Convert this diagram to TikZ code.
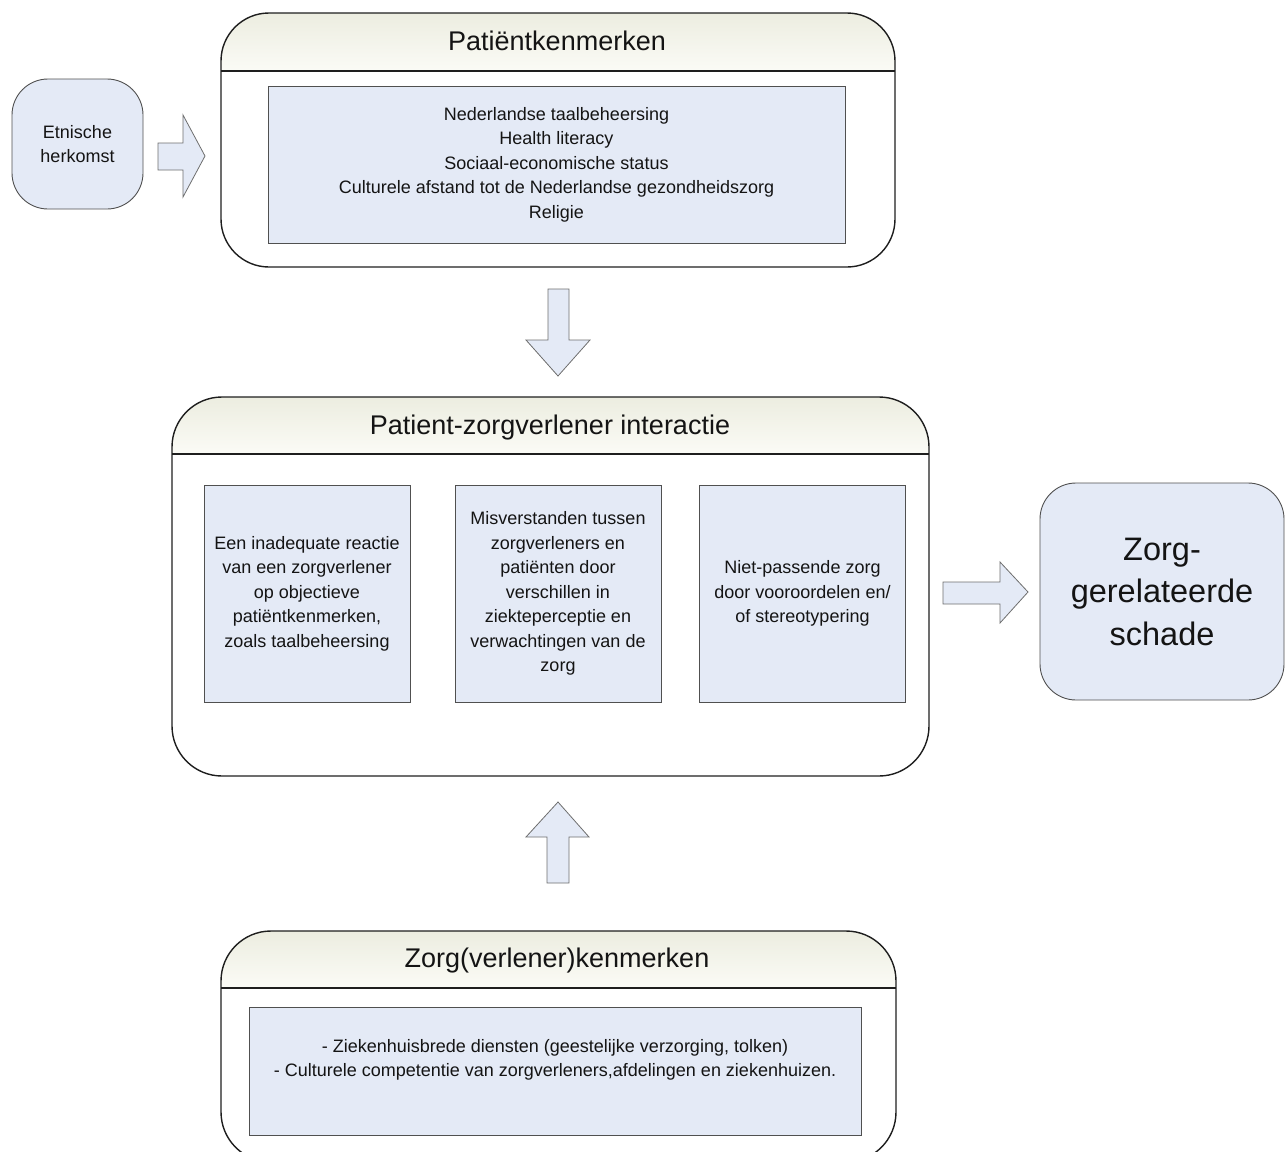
\documentclass[tikz,border=0pt]{standalone}
\usepackage{fontspec}
\setmainfont{Liberation Sans}
\definecolor{boxblue}{RGB}{228,234,246}
\definecolor{hdtop}{RGB}{236,237,224}
\definecolor{hdbot}{RGB}{251,251,246}
\definecolor{contline}{RGB}{30,30,30}
\definecolor{boxline}{RGB}{80,80,80}
\definecolor{arrline}{RGB}{110,110,110}
\definecolor{txtcol}{RGB}{20,20,20}
\newcommand\mycontainer[6]{%
  \begin{scope}
    \clip[rounded corners=#6] (#1,#2) rectangle (#3,#4);
    \shade[top color=hdtop,bottom color=hdbot] (#1,#2) rectangle (#3,#5);
  \end{scope}
  \draw[cont,rounded corners=#6] (#1,#2) rectangle (#3,#4);
  \draw[cont] (#1,#5) -- (#3,#5);}
\begin{document}
\begin{tikzpicture}[x=1pt,y=-1pt,
  cont/.style={draw=contline,line width=1.4pt},
  inbox/.style={draw=boxline,line width=0.9pt,fill=boxblue,inner sep=0pt,text=txtcol,align=center,
    font=\fontsize{18}{24.5}\selectfont},
  roundbox/.style={draw=boxline,line width=0.9pt,fill=boxblue,rounded corners=36pt,inner sep=0pt,text=txtcol,align=center},
  headtxt/.style={text=txtcol,font=\fontsize{27}{32}\selectfont,inner sep=0pt},
  bodytxt/.style={text=txtcol,align=center,font=\fontsize{18}{24.5}\selectfont,inner sep=0pt},
  blockarrow/.style={draw=arrline,line width=0.8pt,fill=boxblue,line join=miter}]
\useasboundingbox (0,0) rectangle (1287,1151);
\clip (0,0) rectangle (1287,1151);

% containers
\mycontainer{221}{13}{895}{267}{71}{48pt}
\mycontainer{172}{397}{929}{776}{454}{50pt}
\mycontainer{221}{931}{896}{1162}{988}{50pt}

% headers
\node[headtxt] (h1) at (557,41) {Patiëntkenmerken};
\node[headtxt] (h2) at (550,428) {Patient-zorgverlener interactie};
\node[headtxt] (h3) at (557,961) {Zorg(verlener)kenmerken};

% inner boxes
\node[inbox,minimum width=577pt,minimum height=157pt] (pk) at (556.5,164.5)
  {Nederlandse taalbeheersing\\Health literacy\\Sociaal-economische status\\Culturele afstand tot de Nederlandse gezondheidszorg\\Religie};
\node[inbox,minimum width=206pt,minimum height=217pt] (m1) at (307,593.5)
  {Een inadequate reactie\\van een zorgverlener\\op objectieve\\patiëntkenmerken,\\zoals taalbeheersing};
\node[inbox,minimum width=206pt,minimum height=217pt] (m2) at (558,593.5)
  {Misverstanden tussen\\zorgverleners en\\patiënten door\\verschillen in\\ziekteperceptie en\\verwachtingen van de\\zorg};
\node[inbox,minimum width=206pt,minimum height=217pt] (m3) at (802.5,593.5)
  {Niet-passende zorg\\door vooroordelen en/\\of stereotypering};
\node[inbox,minimum width=612pt,minimum height=128pt] (zk) at (555,1071) {};
\node[bodytxt] (zktxt) at (555,1060)
  {- Ziekenhuisbrede diensten (geestelijke verzorging, tolken)\\- Culturele competentie van zorgverleners,afdelingen en ziekenhuizen.};

% side boxes
\node[roundbox,minimum width=131pt,minimum height=130pt,font=\fontsize{18}{24}\selectfont] (eh) at (77.5,144)
  {Etnische\\herkomst};
\node[roundbox,minimum width=244pt,minimum height=217pt,font=\fontsize{32.5}{42.5}\selectfont] (zs) at (1162,591.5)
  {Zorg-\\gerelateerde\\schade};

% block arrows
\draw[blockarrow] (158,143) -- (183,143) -- (183,115) -- (205,156) -- (183,197) -- (183,170) -- (158,170) -- cycle;
\draw[blockarrow] (548,289) -- (569,289) -- (569,340) -- (590,340) -- (558,376) -- (526,340) -- (548,340) -- cycle;
\draw[blockarrow] (943,582) -- (1000,582) -- (1000,562) -- (1028,592) -- (1000,623) -- (1000,604) -- (943,604) -- cycle;
\draw[blockarrow] (547,883) -- (547,837) -- (526,837) -- (558,802) -- (589,837) -- (569,837) -- (569,883) -- cycle;
\end{tikzpicture}
\end{document}
